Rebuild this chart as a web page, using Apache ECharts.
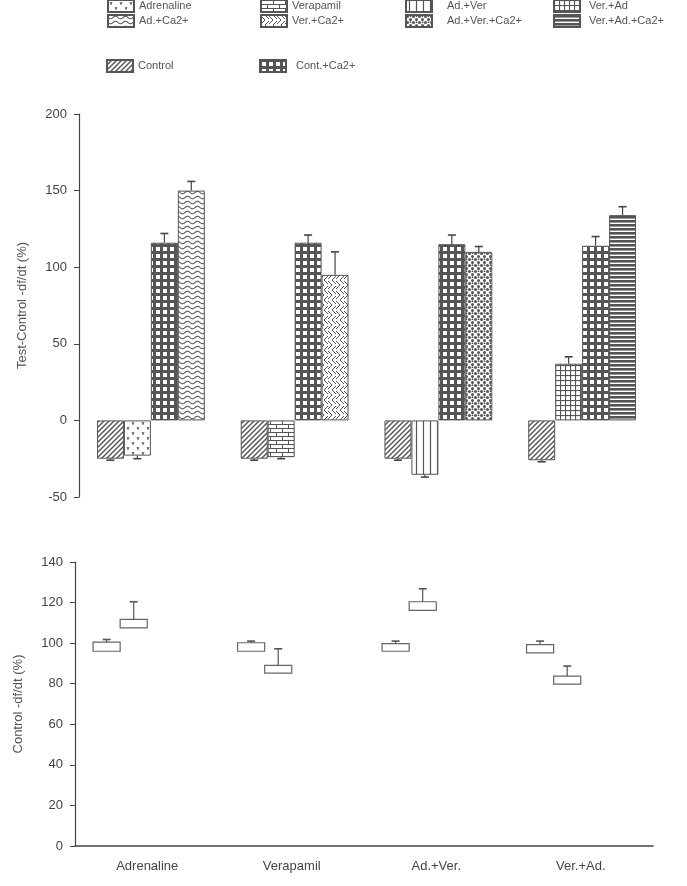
<!DOCTYPE html>
<html>
<head>
<meta charset="utf-8">
<script src="https://cdn.jsdelivr.net/npm/echarts@6/dist/echarts.min.js"></script>
<style>
  html, body { margin: 0; padding: 0; background: #fff; }
  #chart { width: 687px; height: 886px; }
</style>
</head>
<body>
<div id="chart"></div>
<script>
// categories / groups
const categories = ['Adrenaline', 'Verapamil', 'Ad.+Ver.', 'Ver.+Ad.'];

// top chart: test - control (%)
const controlValues = [-25, -25, -25, -26];
const controlErr = [-26, -26, -26, -27];
const drugNames = ['Adrenaline', 'Verapamil', 'Ad.+Ver', 'Ver.+Ad'];
const drugValues = [-23, -24, -35.5, 37];
const drugErr = [-25, -25, -37, 41.5];
const contCaValues = [116, 116, 115, 114];
const contCaErr = [122, 121, 121, 120];
const drugCaNames = ['Ad.+Ca2+', 'Ver.+Ca2+', 'Ad.+Ver.+Ca2+', 'Ver.+Ad.+Ca2+'];
const drugCaValues = [150, 95, 110, 134];
const drugCaErr = [156, 110, 113.5, 139.5];

// bottom chart: control df/dt (%) boxes
const baseLow = [96, 96, 96, 95.2];
const baseHigh = [100.5, 100.2, 99.8, 99.3];
const baseErr = [101.8, 101, 101, 101];
const testLow = [107.5, 85.2, 116.2, 79.8];
const testHigh = [111.7, 89, 120.4, 83.7];
const testErr = [120.4, 97.2, 126.8, 88.7];

const topTicks = { min: -50, max: 200, interval: 50 };
const bottomTicks = { min: 0, max: 140, interval: 20 };

const INK = '#555';
const FONT = 'Liberation Sans';

// hatch patterns drawn on little canvases
function pat(w, h, draw, bg) {
  const c = document.createElement('canvas');
  c.width = w; c.height = h;
  const g = c.getContext('2d');
  g.fillStyle = bg || '#fff';
  g.fillRect(0, 0, w, h);
  g.strokeStyle = INK;
  g.fillStyle = INK;
  g.lineWidth = 1;
  draw(g, w, h);
  return { image: c, repeat: 'repeat' };
}
function line(g, pts) {
  g.beginPath();
  g.moveTo(pts[0], pts[1]);
  for (let i = 2; i < pts.length; i += 2) g.lineTo(pts[i], pts[i + 1]);
  g.stroke();
}

const patterns = {
  control: pat(5, 5, g => {
    g.lineWidth = 1.4;
    line(g, [-1, 6, 6, -1]);
    line(g, [-1, 1, 1, -1]);
    line(g, [4, 6, 6, 4]);
  }),
  adrenaline: pat(10, 10, g => {
    line(g, [2, 2, 3, 4, 4, 2]); line(g, [3, 4, 3, 5]);
    line(g, [7, 7, 8, 9, 9, 7]); line(g, [8, 9, 8, 10]);
  }),
  verapamil: pat(12, 8, g => {
    line(g, [0, 0.5, 12, 0.5]);
    line(g, [0, 4.5, 12, 4.5]);
    line(g, [0.5, 0, 0.5, 4.5]);
    line(g, [6.5, 4.5, 6.5, 8]);
  }),
  adVer: pat(7, 4, g => {
    g.lineWidth = 1.2;
    line(g, [3.5, 0, 3.5, 4]);
  }),
  verAd: pat(5, 5, g => {
    g.lineWidth = 1.2;
    line(g, [0.5, 0, 0.5, 5]);
    line(g, [0, 0.5, 5, 0.5]);
  }),
  adCa: pat(10, 5, g => {
    g.lineWidth = 1.1;
    g.beginPath();
    for (let x = 0; x <= 10; x += 0.5) {
      const y = 2.5 + 1.3 * Math.sin(x / 10 * Math.PI * 2);
      if (x === 0) g.moveTo(x, y); else g.lineTo(x, y);
    }
    g.stroke();
  }),
  verCa: pat(8, 10, g => {
    line(g, [0, 1, 4, 5, 0, 9]);
    line(g, [4, 0, 8, 4]);
    line(g, [4, 10, 8, 6]);
  }),
  adVerCa: pat(6, 6, g => {
    g.beginPath(); g.arc(1.5, 1.5, 1.5, 0, Math.PI * 2); g.fill();
    g.beginPath(); g.arc(4.5, 4.5, 1.5, 0, Math.PI * 2); g.fill();
    g.beginPath(); g.arc(4.5, 1.2, 0.9, 0, Math.PI * 2); g.fill();
  }),
  verAdCa: pat(4, 4, g => {
    g.fillRect(0, 0, 4, 2.6);
  }),
  contCa: pat(7, 7, g => {
    g.fillStyle = '#fff';
    g.fillRect(2, 2, 4, 4);
  }, INK)
};

const drugPatterns = [patterns.adrenaline, patterns.verapamil, patterns.adVer, patterns.verAd];
const drugCaPatterns = [patterns.adCa, patterns.verCa, patterns.adVerCa, patterns.verAdCa];

function onlyAt(values, i) {
  return values.map((v, j) => (j === i ? v : null));
}
function barStyle(color) {
  return { color: color, borderColor: INK, borderWidth: 1 };
}

const series = [];
series.push({
  name: 'Control', type: 'bar', xAxisIndex: 0, yAxisIndex: 0,
  barGap: '0%', barCategoryGap: '25%',
  itemStyle: barStyle(patterns.control), data: controlValues
});
drugNames.forEach((n, i) => series.push({
  name: n, type: 'bar', stack: 'drug', xAxisIndex: 0, yAxisIndex: 0,
  barGap: '0%', barCategoryGap: '25%',
  itemStyle: barStyle(drugPatterns[i]), data: onlyAt(drugValues, i)
}));
series.push({
  name: 'Cont.+Ca2+', type: 'bar', xAxisIndex: 0, yAxisIndex: 0,
  barGap: '0%', barCategoryGap: '25%',
  itemStyle: barStyle(patterns.contCa), data: contCaValues
});
drugCaNames.forEach((n, i) => series.push({
  name: n, type: 'bar', stack: 'drugCa', xAxisIndex: 0, yAxisIndex: 0,
  barGap: '0%', barCategoryGap: '25%',
  itemStyle: barStyle(drugCaPatterns[i]), data: onlyAt(drugCaValues, i)
}));

// error bars of the top chart: [category, value, error end, slot]
const errRows = [];
categories.forEach((c, i) => {
  errRows.push([i, controlValues[i], controlErr[i], 0]);
  errRows.push([i, drugValues[i], drugErr[i], 1]);
  errRows.push([i, contCaValues[i], contCaErr[i], 2]);
  errRows.push([i, drugCaValues[i], drugCaErr[i], 3]);
});

function slotX(api, cat, slot) {
  const band = api.size([1, 0])[0];
  const bw = band * 0.75 / 4;
  const cx = api.coord([cat, 0])[0];
  return { x: cx + (slot - 2) * bw, bw: bw };
}

series.push({
  type: 'custom', xAxisIndex: 0, yAxisIndex: 0, z: 5, silent: true,
  data: errRows,
  renderItem: function (params, api) {
    const s = slotX(api, api.value(0), api.value(3));
    const mx = s.x + s.bw / 2;
    const y0 = api.coord([api.value(0), api.value(1)])[1];
    const y1 = api.coord([api.value(0), api.value(2)])[1];
    const st = { stroke: '#444', lineWidth: 1.2 };
    return {
      type: 'group',
      children: [
        { type: 'line', shape: { x1: mx, y1: y0, x2: mx, y2: y1 }, style: st },
        { type: 'line', shape: { x1: mx - 4, y1: y1, x2: mx + 4, y2: y1 }, style: { stroke: '#444', lineWidth: 1.6 } }
      ]
    };
  }
});

// bottom chart boxes: [category, low, high, error end, slot]
const boxRows = [];
categories.forEach((c, i) => {
  boxRows.push([i, baseLow[i], baseHigh[i], baseErr[i], 0]);
  boxRows.push([i, testLow[i], testHigh[i], testErr[i], 1]);
});

series.push({
  type: 'custom', xAxisIndex: 1, yAxisIndex: 1, silent: true,
  data: boxRows,
  renderItem: function (params, api) {
    const s = slotX(api, api.value(0), api.value(4));
    const mx = s.x + s.bw / 2;
    const yLow = api.coord([api.value(0), api.value(1)])[1];
    const yHigh = api.coord([api.value(0), api.value(2)])[1];
    const yErr = api.coord([api.value(0), api.value(3)])[1];
    return {
      type: 'group',
      children: [
        { type: 'rect', shape: { x: s.x, y: yHigh, width: s.bw, height: yLow - yHigh },
          style: { fill: '#fff', stroke: '#666', lineWidth: 1.2 } },
        { type: 'line', shape: { x1: mx, y1: yHigh, x2: mx, y2: yErr }, style: { stroke: '#555', lineWidth: 1.2 } },
        { type: 'line', shape: { x1: mx - 4, y1: yErr, x2: mx + 4, y2: yErr }, style: { stroke: '#555', lineWidth: 1.6 } }
      ]
    };
  }
});

const legendBase = {
  orient: 'vertical', itemGap: 1, itemWidth: 26, itemHeight: 12, padding: 0,
  icon: 'rect', selectedMode: false,
  textStyle: { fontSize: 11, color: '#555', fontFamily: FONT }
};

const axisText = { color: '#444', fontSize: 13, fontFamily: FONT };

const option = {
  animation: false,
  backgroundColor: '#fff',
  legend: [
    Object.assign({}, legendBase, { left: 107, top: -1, data: ['Adrenaline', 'Ad.+Ca2+'] }),
    Object.assign({}, legendBase, { left: 260, top: -1, data: ['Verapamil', 'Ver.+Ca2+'] }),
    Object.assign({}, legendBase, { left: 405, top: -1, data: ['Ad.+Ver', 'Ad.+Ver.+Ca2+'],
      textStyle: Object.assign({}, legendBase.textStyle, { padding: [0, 0, 0, 10] }) }),
    Object.assign({}, legendBase, { left: 553, top: -1, data: ['Ver.+Ad', 'Ver.+Ad.+Ca2+'],
      textStyle: Object.assign({}, legendBase.textStyle, { padding: [0, 0, 0, 4] }) }),
    Object.assign({}, legendBase, { left: 106, top: 59, data: ['Control'] }),
    Object.assign({}, legendBase, { left: 259, top: 59, data: ['Cont.+Ca2+'],
      textStyle: Object.assign({}, legendBase.textStyle, { padding: [0, 0, 0, 5] }) })
  ],
  grid: [
    { left: 79, right: 33, top: 114, height: 383 },
    { left: 75, right: 34, top: 562, height: 284 }
  ],
  xAxis: [
    { type: 'category', gridIndex: 0, data: categories, show: false },
    { type: 'category', gridIndex: 1, data: categories,
      axisLine: { lineStyle: { color: '#444', width: 1.6 } },
      axisTick: { length: 5, lineStyle: { color: '#444' } },
      axisLabel: Object.assign({}, axisText, { margin: 14 }) }
  ],
  yAxis: [
    { type: 'value', gridIndex: 0, min: topTicks.min, max: topTicks.max, interval: topTicks.interval,
      name: 'Test-Control -df/dt (%)', nameLocation: 'middle', nameGap: 50, nameRotate: 90,
      nameTextStyle: { color: '#555', fontSize: 13, fontFamily: FONT },
      axisLine: { show: true, lineStyle: { color: '#444', width: 1.2 } },
      axisTick: { show: true, length: 5, lineStyle: { color: '#444' } },
      axisLabel: Object.assign({}, axisText, { margin: 12 }),
      splitLine: { show: false } },
    { type: 'value', gridIndex: 1, min: bottomTicks.min, max: bottomTicks.max, interval: bottomTicks.interval,
      name: 'Control -df/dt (%)', nameLocation: 'middle', nameGap: 50, nameRotate: 90,
      nameTextStyle: { color: '#555', fontSize: 13, fontFamily: FONT },
      axisLine: { show: true, lineStyle: { color: '#444', width: 1.2 } },
      axisTick: { show: true, length: 5, lineStyle: { color: '#444' } },
      axisLabel: Object.assign({}, axisText, { margin: 12 }),
      splitLine: { show: false } }
  ],
  series: series
};

const chart = echarts.init(document.getElementById('chart'));
chart.setOption(option);
</script>
</body>
</html>
